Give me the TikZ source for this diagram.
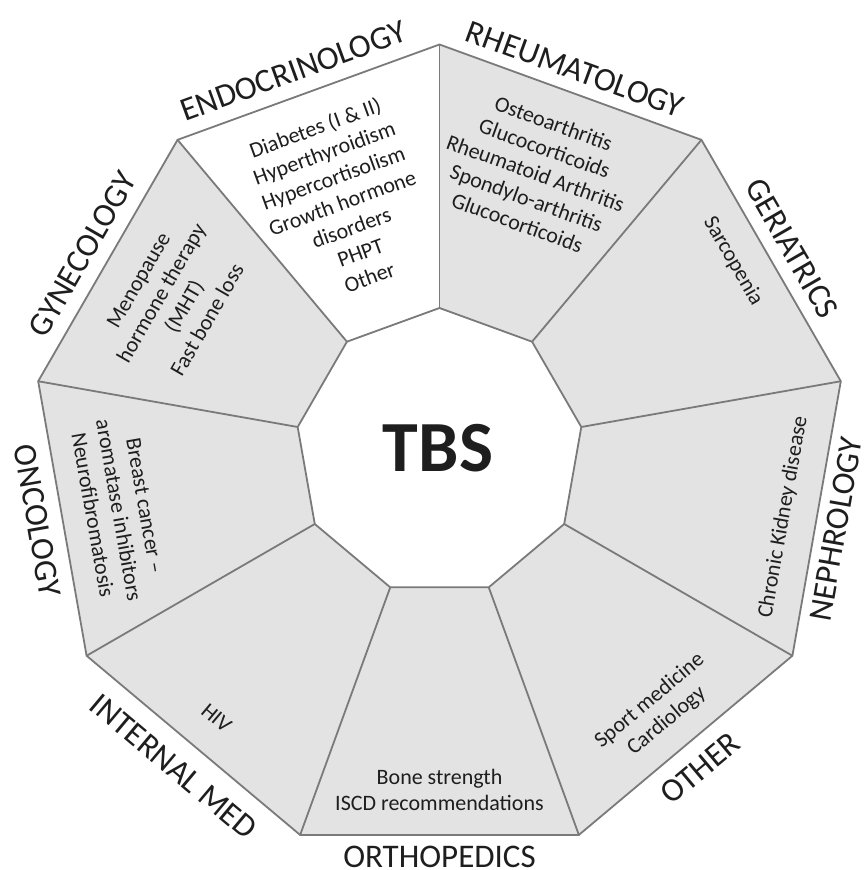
\documentclass[tikz,border=0pt]{standalone}
\usepackage{fontspec}
\setmainfont{Carlito}
\definecolor{sectorgray}{HTML}{E3E3E3}
\definecolor{edgegray}{HTML}{7A7A7A}
\definecolor{textdark}{HTML}{1E1E1E}
\begin{document}
\begin{tikzpicture}[x=1pt,y=1pt,
  edge/.style={draw=edgegray, line width=1.8pt, line join=miter},
  heading/.style={font=\fontsize{33}{36}\selectfont, text=textdark, inner sep=0pt},
  item/.style={font=\fontsize{22}{26.5}\selectfont, text=textdark, align=center, inner sep=0pt},
  centre/.style={font=\fontsize{72}{80}\selectfont\bfseries, text=textdark, inner sep=0pt}
]
\fill[white] (-439.5,-418) rectangle (423.5,452);
\useasboundingbox (-439.5,-418) rectangle (423.5,452);
\foreach \k in {0,...,8} {
  \coordinate (o\k) at ({90+40*\k}:407.5);
  \coordinate (i\k) at ({90+40*\k}:144);
}
% sectors (k=0..1 is Endocrinology, left white)
\foreach \k in {1,...,8} {
  \pgfmathtruncatemacro{\n}{mod(\k+1,9)}
  \fill[sectorgray] (o\k) -- (o\n) -- (i\n) -- (i\k) -- cycle;
}
\draw[edge] (o0) -- (o1) -- (o2) -- (o3) -- (o4) -- (o5) -- (o6) -- (o7) -- (o8) -- cycle;
\draw[edge] (i0) -- (i1) -- (i2) -- (i3) -- (i4) -- (i5) -- (i6) -- (i7) -- (i8) -- cycle;
\foreach \k in {0,...,8} {
  \draw[edge] (o\k) -- (i\k);
}
% centre
\node[centre] (tbs) at (-1.5,3.5) {TBS};
% headings
\node[heading, rotate=20] (endoL) at (111:408) {ENDOCRINOLOGY};
\node[heading, rotate=-20] (rheuL) at (70.5:406) {RHEUMATOLOGY};
\node[heading, rotate=-60] (geriL) at (30:407) {GERIATRICS};
\node[heading, rotate=80] (nephL) at (-11:404) {NEPHROLOGY};
\node[heading, rotate=40] (otherL) at (-50.5:410) {OTHER};
\node[heading] (orthoL) at (-90:405) {ORTHOPEDICS};
\node[heading, rotate=-40] (intL) at (-130.2:412) {INTERNAL MED};
\node[heading, rotate=-80] (oncoL) at (-170.3:408) {ONCOLOGY};
\node[heading, rotate=60] (gynL) at (151:408) {GYNECOLOGY};
% sector contents
\node[item, rotate=20] (endoT) at (111.3:268) {Diabetes (I \& II)\\Hyperthyroidism\\Hypercortisolism\\Growth hormone\\disorders\\PHPT\\Other};
\node[item, rotate=-20] (rheuT) at (71:295) {Osteoarthritis\\Glucocorticoids\\Rheumatoid Arthritis\\Spondylo-arthritis\\Glucocorticoids};
\node[item, rotate=-60] (geriT) at (33:350) {Sarcopenia};
\node[item, rotate=80] (nephT) at (-10.7:350) {Chronic Kidney disease};
\node[item, rotate=40] (otherT) at (-49.8:339) {Sport medicine\\Cardiology};
\node[item] (orthoT) at (-90:338) {Bone strength\\ISCD recommendations};
\node[item, rotate=-40] (intT) at (-130:347) {HIV};
\node[item, rotate=-80] (oncoT) at (-169.7:326) {Breast cancer --\\aromatase inhibitors\\Neurofibromatosis};
\node[item, rotate=60] (gynT) at (150.3:307) {Menopause\\hormone therapy\\(MHT)\\Fast bone loss};
\end{tikzpicture}
\end{document}
